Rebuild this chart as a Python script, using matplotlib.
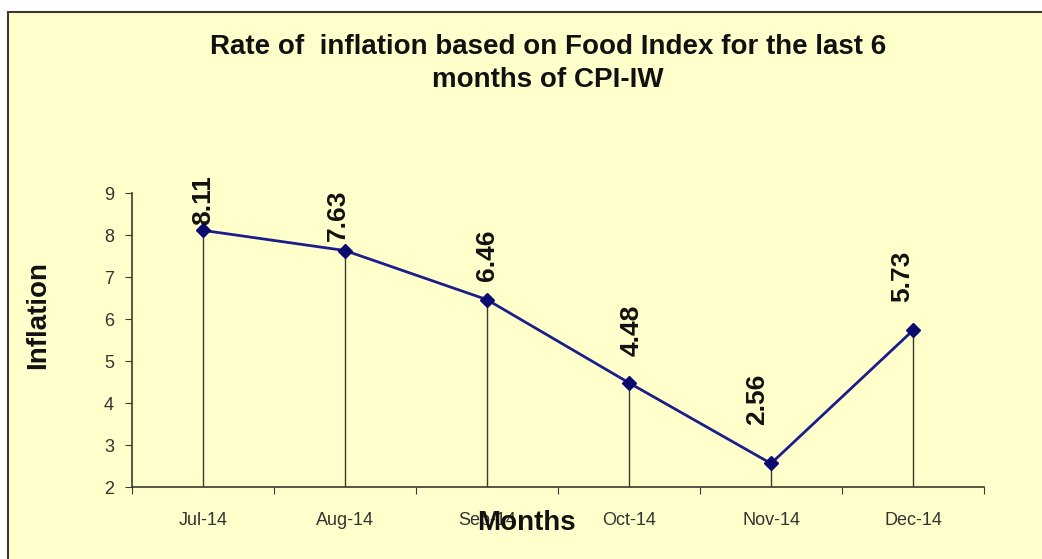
import matplotlib.pyplot as plt
from matplotlib.patches import Rectangle

months = ["Jul-14", "Aug-14", "Sep-14", "Oct-14", "Nov-14", "Dec-14"]
inflation = [8.11, 7.63, 6.46, 4.48, 2.56, 5.73]
yticks = [2, 3, 4, 5, 6, 7, 8, 9]

# label placement as in the original (pixels from the marker)
label_dx = [0, -7, 0, 3, -14, -11]
label_gap = [5, 10, 19, 27, 38, 28]

bg = "#FFFFCC"
dark = "#3a3a30"

plt.rcParams['font.family'] = ['Liberation Sans', 'DejaVu Sans']

fig = plt.figure(figsize=(10.42, 5.59), dpi=100)
fig.patch.set_facecolor("white")
# yellow panel with border
fig.patches.append(Rectangle((8 / 1042, -0.01), 1.02, 1 - 12 / 559 + 0.01,
                             transform=fig.transFigure, facecolor=bg,
                             edgecolor=dark, linewidth=1.5, zorder=-5))

ax = fig.add_axes([132 / 1042, 1 - 487 / 559, (984 - 132) / 1042, (487 - 193) / 559])
ax.set_facecolor("none")

x = list(range(len(months)))
ax.vlines(x, 2, inflation, color=dark, linewidth=1)
ax.plot(x, inflation, color="#1c1c8a", linewidth=2, marker="D", markersize=7,
        markerfacecolor="#0a0a70", markeredgecolor="#0a0a70", zorder=3)

for xi, v, dx, gap in zip(x, inflation, label_dx, label_gap):
    ax.annotate(f"{v:.2f}", (xi, v), xytext=(dx, gap), textcoords="offset pixels",
                rotation=90, ha="center", va="bottom", fontsize=19,
                fontweight="bold", color="#111111", annotation_clip=False)

ax.set_xlim(-0.5, len(months) - 0.5)
ax.set_ylim(2, 9)
ax.set_yticks(yticks)
ax.set_xticks([i - 0.5 for i in range(len(months) + 1)])
ax.set_xticklabels([])
ax.set_xticks(x, minor=True)
ax.set_xticklabels(months, minor=True)
ax.tick_params(axis="x", which="minor", length=0, pad=18, labelsize=13, labelcolor="#333333")
ax.tick_params(axis="x", which="major", length=5, direction="out", color=dark)
ax.tick_params(axis="y", length=5, direction="out", color=dark, labelsize=13,
               labelcolor="#333333", pad=8)

for s in ["top", "right"]:
    ax.spines[s].set_visible(False)
for s in ["left", "bottom"]:
    ax.spines[s].set_color(dark)
    ax.spines[s].set_linewidth(1.2)

fig.text(548 / 1042, 1 - 47 / 559, "Rate of  inflation based on Food Index for the last 6",
         ha="center", va="center", fontsize=20, fontweight="bold", color="#111111")
fig.text(548 / 1042, 1 - 80 / 559, "months of CPI-IW",
         ha="center", va="center", fontsize=20, fontweight="bold", color="#111111")
fig.text(526 / 1042, 1 - 523 / 559, "Months", ha="center", va="center",
         fontsize=20, fontweight="bold", color="#111111")
fig.text(38 / 1042, 1 - 315 / 559, "Inflation", ha="center", va="center",
         rotation=90, fontsize=20, fontweight="bold", color="#111111")

fig.savefig("out.png", dpi=100, facecolor=fig.get_facecolor())
